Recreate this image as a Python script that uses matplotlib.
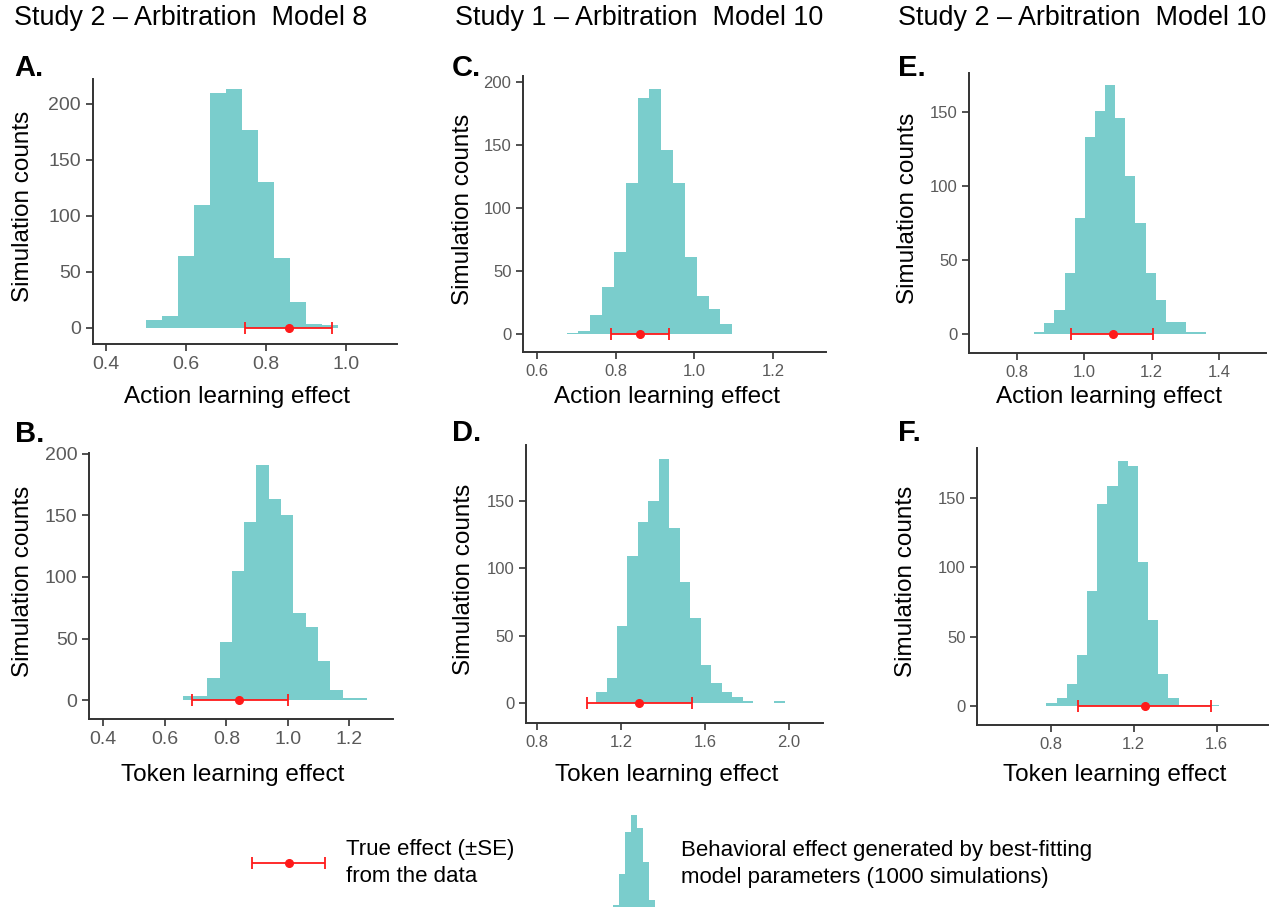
import matplotlib
matplotlib.use('Agg')
import matplotlib.pyplot as plt
import numpy as np

plt.rcParams['font.family'] = ['Liberation Sans', 'DejaVu Sans']

W, H = 1275, 907
TEAL = '#7ACDCC'
RED = '#FF1A1A'

# --- data (histograms of 1000 simulations) ---
a_start, a_width = 0.50, 0.04
a_counts = [7, 10, 64, 110, 210, 213, 177, 130, 62, 23, 3, 2]
a_true = (0.858, 0.748, 0.965)   # effect, lower, upper

b_start, b_width = 0.658, 0.04
b_counts = [3, 3, 18, 47, 105, 145, 191, 163, 150, 71, 59, 32, 8, 2, 2]
b_true = (0.842, 0.690, 1.000)

c_start, c_width = 0.676, 0.03
c_counts = [1, 2, 15, 37, 65, 120, 187, 194, 146, 120, 61, 30, 20, 8]
c_true = (0.862, 0.788, 0.936)

d_start, d_width = 1.08, 0.05
d_counts = [8, 19, 57, 109, 134, 150, 181, 130, 90, 63, 28, 15, 8, 5, 2, 0, 0, 2]
d_true = (1.287, 1.037, 1.538)

e_start, e_width = 0.852, 0.03
e_counts = [1, 7, 16, 41, 78, 133, 151, 168, 146, 107, 75, 41, 23, 8, 8, 1, 1]
e_true = (1.084, 0.960, 1.203)

f_start, f_width = 0.78, 0.049
f_counts = [2, 6, 16, 37, 83, 146, 159, 177, 173, 104, 62, 23, 6, 1, 1, 1, 1]
f_true = (1.255, 0.933, 1.571)

column_titles = ['Study 2 – Arbitration  Model 8',
                 'Study 1 – Arbitration  Model 10',
                 'Study 2 – Arbitration  Model 10']
legend_icon_counts = [2, 33, 75, 92, 79, 45, 7]


def px_rect(left, right, top, bottom):
    return [left / W, 1 - bottom / H, (right - left) / W, (bottom - top) / H]


def fig_text(x, y, s, **kw):
    fig.text(x / W, 1 - y / H, s, **kw)


# panel layout: letter, data, axes box (px), limits, ticks, x label, tick font
panels = [
    dict(letter='A.', start=a_start, width=a_width, counts=a_counts, true=a_true,
         box=(92.7, 396.7, 79.3, 344), xlim=(0.3675, 1.1275), ylim=(-14.6, 222),
         xticks=[0.4, 0.6, 0.8, 1.0], yticks=[0, 50, 100, 150, 200],
         xlabel='Action learning effect', tsize=14, letter_xy=(14, 68), ylab_x=23, xlab_y=397),
    dict(letter='B.', start=b_start, width=b_width, counts=b_counts, true=b_true,
         box=(89.3, 392.7, 453.3, 719), xlim=(0.3545, 1.341), ylim=(-15.4, 200.5),
         xticks=[0.4, 0.6, 0.8, 1.0, 1.2], yticks=[0, 50, 100, 150, 200],
         xlabel='Token learning effect', tsize=14, letter_xy=(15, 434), ylab_x=23, xlab_y=775),
    dict(letter='C.', start=c_start, width=c_width, counts=c_counts, true=c_true,
         box=(523.3, 826, 76, 352.3), xlim=(0.566, 1.334), ylim=(-14.5, 204.5),
         xticks=[0.6, 0.8, 1.0, 1.2], yticks=[0, 50, 100, 150, 200],
         xlabel='Action learning effect', tsize=12, letter_xy=(452, 68), ylab_x=463, xlab_y=397),
    dict(letter='D.', start=d_start, width=d_width, counts=d_counts, true=d_true,
         box=(526, 823.3, 445, 723.3), xlim=(0.746, 2.164), ylim=(-14.8, 191.2),
         xticks=[0.8, 1.2, 1.6, 2.0], yticks=[0, 50, 100, 150],
         xlabel='Token learning effect', tsize=12, letter_xy=(452, 433), ylab_x=464, xlab_y=775),
    dict(letter='E.', start=e_start, width=e_width, counts=e_counts, true=e_true,
         box=(969.3, 1265.7, 72.7, 353.3), xlim=(0.6596, 1.538), ylim=(-13.3, 176.6),
         xticks=[0.8, 1.0, 1.2, 1.4], yticks=[0, 50, 100, 150],
         xlabel='Action learning effect', tsize=12, letter_xy=(898, 68), ylab_x=908, xlab_y=397),
    dict(letter='F.', start=f_start, width=f_width, counts=f_counts, true=f_true,
         box=(977.3, 1268.3, 448.3, 725), xlim=(0.4466, 1.849), ylim=(-13.7, 186),
         xticks=[0.8, 1.2, 1.6], yticks=[0, 50, 100, 150],
         xlabel='Token learning effect', tsize=12, letter_xy=(898, 433), ylab_x=906, xlab_y=775),
]

fig = plt.figure(figsize=(12.75, 9.07), dpi=100)

for p in panels:
    l, r, t, b = p['box']
    ax = fig.add_axes(px_rect(l, r, t, b))
    edges = p['start'] + p['width'] * np.arange(len(p['counts']))
    ax.bar(edges, p['counts'], width=p['width'], align='edge', color=TEAL,
           edgecolor='none', zorder=1)
    eff, lo, hi = p['true']
    ax.errorbar([eff], [0], xerr=[[eff - lo], [hi - eff]], fmt='o', color=RED,
                ms=5.5, elinewidth=1.3, capsize=4.5, capthick=1.3, zorder=3)
    ax.set_xlim(*p['xlim'])
    ax.set_ylim(*p['ylim'])
    ax.set_xticks(p['xticks'])
    ax.set_xticklabels([f'{v:.1f}' for v in p['xticks']])
    ax.set_yticks(p['yticks'])
    for side in ['top', 'right']:
        ax.spines[side].set_visible(False)
    for side in ['left', 'bottom']:
        ax.spines[side].set_linewidth(1.4)
        ax.spines[side].set_color('#333333')
    ax.tick_params(direction='out', length=5, width=1.2, color='#333333',
                   labelcolor='#5a5a5a', labelsize=p['tsize'], pad=3.5)
    ax.patch.set_alpha(0)

    fig_text(p['letter_xy'][0], p['letter_xy'][1], p['letter'], fontsize=21,
             fontweight='bold', ha='left', va='center')
    fig_text(p['ylab_x'], (t + b) / 2 - 5, 'Simulation counts', fontsize=17.5,
             rotation=90, ha='center', va='center')
    fig_text((l + r) / 2 - 8, p['xlab_y'], p['xlabel'], fontsize=17.5,
             ha='center', va='center')

for x, title in zip([14, 455, 898], column_titles):
    fig_text(x, 18, title, fontsize=19.4, ha='left', va='center')

# --- legend ---
leg_err = fig.add_axes(px_rect(245, 332, 850, 875))
leg_err.errorbar([0.5], [0.5], xerr=[[0.42], [0.42]], fmt='o', color=RED,
                 ms=5.5, elinewidth=1.3, capsize=4.5, capthick=1.3)
leg_err.set_xlim(0, 1)
leg_err.set_ylim(0, 1)
leg_err.axis('off')
fig_text(346, 863, 'True effect (±SE)\nfrom the data', fontsize=16,
         ha='left', va='center', linespacing=1.4)

leg_hist = fig.add_axes(px_rect(613, 654.5, 815, 907))
leg_hist.bar(np.arange(len(legend_icon_counts)), legend_icon_counts, width=1.0,
             align='edge', color=TEAL, edgecolor='none')
leg_hist.set_xlim(0, len(legend_icon_counts))
leg_hist.set_ylim(0, max(legend_icon_counts))
leg_hist.axis('off')
fig_text(681, 864, 'Behavioral effect generated by best-fitting\nmodel parameters (1000 simulations)',
         fontsize=16, ha='left', va='center', linespacing=1.4)

fig.savefig('out.png', dpi=100)
